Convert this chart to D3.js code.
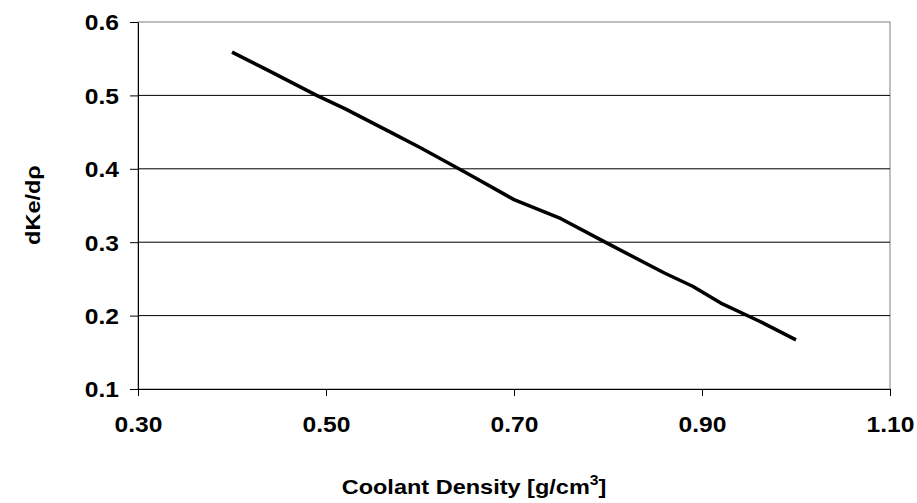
<!DOCTYPE html>
<html>
<head>
<meta charset="utf-8">
<script src="https://cdn.jsdelivr.net/npm/d3@7"></script>
<style>
  body { margin: 0; background: #fff; }
  svg text { font-family: "Liberation Sans", Arial, sans-serif; font-weight: bold; fill: #000; }
</style>
</head>
<body>
<svg id="chart" width="917" height="503"></svg>
<script>
// ---- data
const density = [0.40, 0.44, 0.49, 0.52, 0.57, 0.60, 0.65, 0.70, 0.75, 0.80, 0.86, 0.89, 0.92, 0.96, 1.00];
const dKeDrho = [0.559, 0.533, 0.500, 0.482, 0.449, 0.429, 0.394, 0.358, 0.332, 0.298, 0.258, 0.240, 0.217, 0.193, 0.167];
const xTicks = [0.30, 0.50, 0.70, 0.90, 1.10];
const yTicks = [0.1, 0.2, 0.3, 0.4, 0.5, 0.6];

//*************************1. canvas
const svg = d3.select("#chart");
const plotLeft = 138, plotRight = 890, plotTop = 22, plotBottom = 389;
const stretch = 1.12; // the original text is a bit wide

//*************************2. scales
const x = d3.scaleLinear().domain([0.3, 1.1]).range([plotLeft, plotRight]);
const y = d3.scaleLinear().domain([0.1, 0.6]).range([plotBottom, plotTop]);

// plot area border (grey, like the old excel frame)
svg.append("rect")
  .attr("x", plotLeft).attr("y", plotTop)
  .attr("width", plotRight - plotLeft).attr("height", plotBottom - plotTop)
  .attr("fill", "none").attr("stroke", "#808080").attr("stroke-width", 1);

// gridlines
svg.append("g").selectAll("line")
  .data(yTicks.filter(d => d > 0.1 && d < 0.6))
  .join("line")
  .attr("x1", plotLeft).attr("x2", plotRight)
  .attr("y1", d => y(d)).attr("y2", d => y(d))
  .attr("stroke", "#000").attr("stroke-width", 1);

//*************************3. axes
const xAxis = svg.append("g")
  .attr("transform", `translate(0,${plotBottom})`)
  .call(d3.axisBottom(x).tickValues(xTicks).tickFormat(d3.format(".2f")).tickSizeInner(7).tickSizeOuter(0));
xAxis.select(".domain").attr("stroke", "#000");
xAxis.selectAll(".tick line").attr("stroke", "#000");
xAxis.selectAll(".tick text")
  .attr("y", 43).attr("dy", null)
  .attr("transform", `scale(${stretch},1)`)
  .style("font-size", "22px");

const yAxis = svg.append("g")
  .attr("transform", `translate(${plotLeft},0)`)
  .call(d3.axisLeft(y).tickValues(yTicks).tickFormat(d3.format(".1f")).tickSizeInner(8).tickSizeOuter(0));
yAxis.select(".domain").attr("stroke", "#000");
yAxis.selectAll(".tick line").attr("stroke", "#000");
yAxis.selectAll(".tick text")
  .attr("x", -19 / stretch).attr("dy", "0.36em")
  .attr("transform", `scale(${stretch},1)`)
  .style("font-size", "22px");

//*************************4. line
const line = d3.line()
  .x((d, i) => x(density[i]))
  .y(d => y(d));

svg.append("path")
  .datum(dKeDrho)
  .attr("d", line)
  .attr("fill", "none")
  .attr("stroke", "#000")
  .attr("stroke-width", 3.5)
  .attr("stroke-linejoin", "round")
  .attr("stroke-linecap", "butt");

//*************************5. titles
const xTitle = svg.append("text")
  .attr("transform", `translate(474,494) scale(${stretch},1)`)
  .attr("text-anchor", "middle")
  .style("font-size", "21px");
xTitle.append("tspan").text("Coolant Density [g/cm");
xTitle.append("tspan").attr("dy", -9).style("font-size", "14px").text("3");
xTitle.append("tspan").attr("dy", 9).text("]");

svg.append("text")
  .attr("transform", `translate(40,205) rotate(-90) scale(${stretch},1)`)
  .attr("text-anchor", "middle")
  .style("font-size", "21px")
  .text("dKe/dρ");
</script>
</body>
</html>
